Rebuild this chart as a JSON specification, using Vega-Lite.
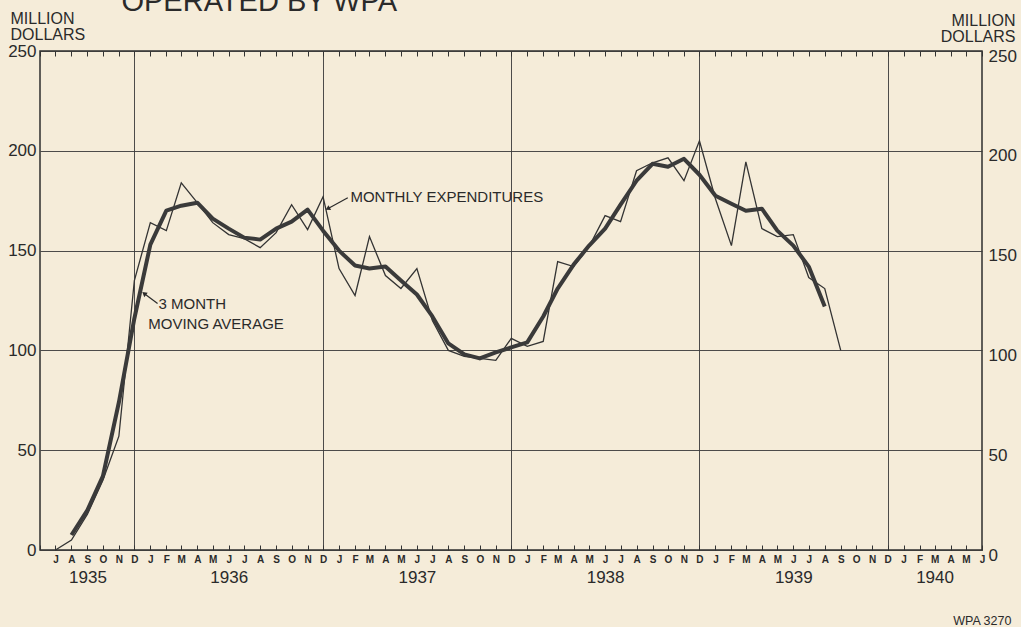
{
  "$schema": "https://vega.github.io/schema/vega-lite/v6.json",
  "autosize": {"type": "none"},
  "width": 942,
  "height": 499,
  "padding": {"left": 40, "top": 51, "right": 39, "bottom": 77},
  "background": "#f5ecd9",
  "config": {
    "font": "Liberation Sans",
    "view": {"stroke": "#2e2e2e", "strokeWidth": 1.5},
    "axis": {"labelColor": "#2a2a2a", "titleColor": "#2a2a2a", "labelFont": "Liberation Sans", "titleFont": "Liberation Sans"}
  },
  "datasets": {
    "expenditures": [
      {"month": "1935-07-01T00:00", "monthly": 0, "average": null},
      {"month": "1935-08-01T00:00", "monthly": 5, "average": 7.5},
      {"month": "1935-09-01T00:00", "monthly": 18, "average": 20},
      {"month": "1935-10-01T00:00", "monthly": 35, "average": 37},
      {"month": "1935-11-01T00:00", "monthly": 57, "average": 74},
      {"month": "1935-12-01T00:00", "monthly": 135, "average": 116},
      {"month": "1936-01-01T00:00", "monthly": 164, "average": 153},
      {"month": "1936-02-01T00:00", "monthly": 160, "average": 170},
      {"month": "1936-03-01T00:00", "monthly": 184, "average": 172.5},
      {"month": "1936-04-01T00:00", "monthly": 174, "average": 174},
      {"month": "1936-05-01T00:00", "monthly": 164, "average": 166},
      {"month": "1936-06-01T00:00", "monthly": 158, "average": 161},
      {"month": "1936-07-01T00:00", "monthly": 156, "average": 156.5},
      {"month": "1936-08-01T00:00", "monthly": 151.5, "average": 155.5},
      {"month": "1936-09-01T00:00", "monthly": 159, "average": 161},
      {"month": "1936-10-01T00:00", "monthly": 173, "average": 164.5},
      {"month": "1936-11-01T00:00", "monthly": 160.5, "average": 170.5},
      {"month": "1936-12-01T00:00", "monthly": 177, "average": 160},
      {"month": "1937-01-01T00:00", "monthly": 141, "average": 150},
      {"month": "1937-02-01T00:00", "monthly": 127.5, "average": 142.5},
      {"month": "1937-03-01T00:00", "monthly": 157, "average": 141},
      {"month": "1937-04-01T00:00", "monthly": 137.5, "average": 142},
      {"month": "1937-05-01T00:00", "monthly": 131, "average": 135},
      {"month": "1937-06-01T00:00", "monthly": 141, "average": 128},
      {"month": "1937-07-01T00:00", "monthly": 115, "average": 117},
      {"month": "1937-08-01T00:00", "monthly": 100, "average": 103.5},
      {"month": "1937-09-01T00:00", "monthly": 97, "average": 98},
      {"month": "1937-10-01T00:00", "monthly": 96, "average": 96},
      {"month": "1937-11-01T00:00", "monthly": 95, "average": 99},
      {"month": "1937-12-01T00:00", "monthly": 106, "average": 101.5},
      {"month": "1938-01-01T00:00", "monthly": 102, "average": 104},
      {"month": "1938-02-01T00:00", "monthly": 104.5, "average": 117},
      {"month": "1938-03-01T00:00", "monthly": 144.5, "average": 131},
      {"month": "1938-04-01T00:00", "monthly": 142, "average": 143},
      {"month": "1938-05-01T00:00", "monthly": 152, "average": 152.5},
      {"month": "1938-06-01T00:00", "monthly": 167.5, "average": 161},
      {"month": "1938-07-01T00:00", "monthly": 164.5, "average": 173},
      {"month": "1938-08-01T00:00", "monthly": 190, "average": 185},
      {"month": "1938-09-01T00:00", "monthly": 194, "average": 193.5},
      {"month": "1938-10-01T00:00", "monthly": 196.5, "average": 192},
      {"month": "1938-11-01T00:00", "monthly": 185, "average": 196},
      {"month": "1938-12-01T00:00", "monthly": 205, "average": 188},
      {"month": "1939-01-01T00:00", "monthly": 176, "average": 177.5},
      {"month": "1939-02-01T00:00", "monthly": 152.5, "average": 173.5},
      {"month": "1939-03-01T00:00", "monthly": 194.5, "average": 170},
      {"month": "1939-04-01T00:00", "monthly": 161, "average": 171},
      {"month": "1939-05-01T00:00", "monthly": 157, "average": 160},
      {"month": "1939-06-01T00:00", "monthly": 158, "average": 152.5},
      {"month": "1939-07-01T00:00", "monthly": 136.5, "average": 142},
      {"month": "1939-08-01T00:00", "monthly": 131, "average": 122},
      {"month": "1939-09-01T00:00", "monthly": 100, "average": null}
    ],
    "notes": [
      {"date": "1937-01-23T00:00", "value": 177, "text": "MONTHLY EXPENDITURES"},
      {"date": "1936-01-17T00:00", "value": 123, "text": "3 MONTH"},
      {"date": "1935-12-28T00:00", "value": 113, "text": "MOVING AVERAGE"}
    ],
    "arrows": [
      {"name": "monthly", "date": "1937-01-18T00:00", "value": 176.5, "tipDate": "1936-12-10T00:00", "tipValue": 171},
      {"name": "average", "date": "1936-01-15T00:00", "value": 123.5, "tipDate": "1935-12-20T00:00", "tipValue": 128.5}
    ]
  },
  "resolve": {"axis": {"x": "independent", "y": "independent"}},
  "layer": [
    {
      "data": {"name": "expenditures"},
      "mark": {"type": "line", "color": "#333333", "strokeWidth": 1.3, "strokeJoin": "miter"},
      "encoding": {
        "x": {
          "field": "month", "type": "temporal",
          "scale": {"domain": [{"year": 1935, "month": 6, "date": 1}, {"year": 1940, "month": 6, "date": 1}]},
          "axis": {
            "orient": "bottom", "title": null,
            "tickCount": {"interval": "month", "step": 1},
            "labelExpr": "datum.value < datetime(1935,5,15) ? '' : upper(substring(timeFormat(datum.value, '%b'), 0, 1))",
            "labelFontSize": 10, "labelFontWeight": "bold", "labelPadding": 9, "labelAngle": 0,
            "labelFlush": false, "labelOverlap": false, "labelBound": false,
            "tickSize": -5, "tickColor": "#333333", "tickWidth": 1,
            "domain": false,
            "grid": true, "gridColor": "#3a3a3a", "gridWidth": 1,
            "gridOpacity": {"condition": {"test": "month(datum.value) === 11", "value": 0.9}, "value": 0}
          }
        },
        "y": {
          "field": "monthly", "type": "quantitative",
          "scale": {"domain": [0, 250], "nice": false},
          "axis": {
            "orient": "left", "values": [0, 50, 100, 150, 200, 250],
            "title": ["MILLION", "DOLLARS"], "titleAngle": 0, "titleAlign": "left", "titleBaseline": "top",
            "titleX": -30, "titleY": -41, "titleFontSize": 16, "titleFontWeight": "normal", "titleLineHeight": 16.5,
            "labelFontSize": 17, "labelPadding": 4, "labelFlush": false, "labelBound": false,
            "ticks": false, "domain": false,
            "grid": true, "gridColor": "#3a3a3a", "gridWidth": 1, "gridOpacity": 0.9
          }
        }
      }
    },
    {
      "data": {"name": "expenditures"},
      "mark": {"type": "line", "color": "#3a3a3a", "strokeWidth": 4, "strokeJoin": "round", "strokeCap": "butt"},
      "encoding": {
        "x": {
          "field": "month", "type": "temporal",
          "axis": {
            "orient": "top", "title": null,
            "tickCount": {"interval": "month", "step": 1},
            "labels": false, "tickSize": -5, "tickColor": "#333333", "tickWidth": 1,
            "domain": false, "grid": false
          }
        },
        "y": {
          "field": "average", "type": "quantitative",
          "axis": {
            "orient": "right", "values": [0, 50, 100, 150, 200, 250],
            "title": ["MILLION", "DOLLARS"], "titleAngle": 0, "titleAlign": "right", "titleBaseline": "top",
            "titleX": 33, "titleY": -39, "titleFontSize": 16, "titleFontWeight": "normal", "titleLineHeight": 16.5,
            "labelFontSize": 17, "labelPadding": 6, "labelOffset": 5, "labelFlush": false, "labelBound": false,
            "ticks": false, "domain": false, "grid": false
          }
        }
      }
    },
    {
      "data": {"name": "notes"},
      "mark": {"type": "text", "align": "left", "baseline": "middle", "fontSize": 15, "color": "#2a2a2a"},
      "encoding": {
        "x": {
          "field": "date", "type": "temporal",
          "axis": {
            "orient": "bottom", "title": null,
            "values": [
              {"year": 1935, "month": 9, "date": 1},
              {"year": 1936, "month": 6, "date": 1},
              {"year": 1937, "month": 6, "date": 1},
              {"year": 1938, "month": 6, "date": 1},
              {"year": 1939, "month": 6, "date": 1},
              {"year": 1940, "month": 3, "date": 1}
            ],
            "labelExpr": "timeFormat(datum.value, '%Y')",
            "labelFontSize": 17, "labelPadding": 19, "labelFlush": false, "labelOverlap": false, "labelBound": false,
            "ticks": false, "domain": false, "grid": false
          }
        },
        "y": {"field": "value", "type": "quantitative", "axis": null},
        "text": {"field": "text"}
      }
    },
    {
      "data": {"name": "arrows"},
      "mark": {"type": "rule", "color": "#2a2a2a", "strokeWidth": 1.2},
      "encoding": {
        "x": {"field": "date", "type": "temporal", "axis": null},
        "x2": {"field": "tipDate"},
        "y": {"field": "value", "type": "quantitative", "axis": null},
        "y2": {"field": "tipValue"}
      }
    },
    {
      "data": {"name": "arrows"},
      "transform": [{"filter": "datum.name === 'monthly'"}],
      "mark": {"type": "point", "shape": "triangle-up", "filled": true, "size": 30, "angle": 241, "color": "#2a2a2a", "opacity": 1},
      "encoding": {
        "x": {"field": "tipDate", "type": "temporal", "axis": null},
        "y": {"field": "tipValue", "type": "quantitative", "axis": null}
      }
    },
    {
      "data": {"name": "arrows"},
      "transform": [{"filter": "datum.name === 'average'"}],
      "mark": {"type": "point", "shape": "triangle-up", "filled": true, "size": 30, "angle": 308, "color": "#2a2a2a", "opacity": 1},
      "encoding": {
        "x": {"field": "tipDate", "type": "temporal", "axis": null},
        "y": {"field": "tipValue", "type": "quantitative", "axis": null}
      }
    },
    {
      "data": {"values": [{"date": "1935-11-06T00:00", "value": 270, "text": "OPERATED BY WPA"}]},
      "mark": {"type": "text", "align": "left", "baseline": "alphabetic", "fontSize": 29, "color": "#2a2a2a"},
      "encoding": {
        "x": {"field": "date", "type": "temporal", "axis": null},
        "y": {"field": "value", "type": "quantitative", "axis": null},
        "text": {"field": "text"}
      }
    },
    {
      "data": {"values": [{"date": "1940-07-28T00:00", "value": -35.5, "text": "WPA 3270"}]},
      "mark": {"type": "text", "align": "right", "baseline": "middle", "fontSize": 12.5, "color": "#2a2a2a"},
      "encoding": {
        "x": {"field": "date", "type": "temporal", "axis": null},
        "y": {"field": "value", "type": "quantitative", "axis": null},
        "text": {"field": "text"}
      }
    }
  ]
}
